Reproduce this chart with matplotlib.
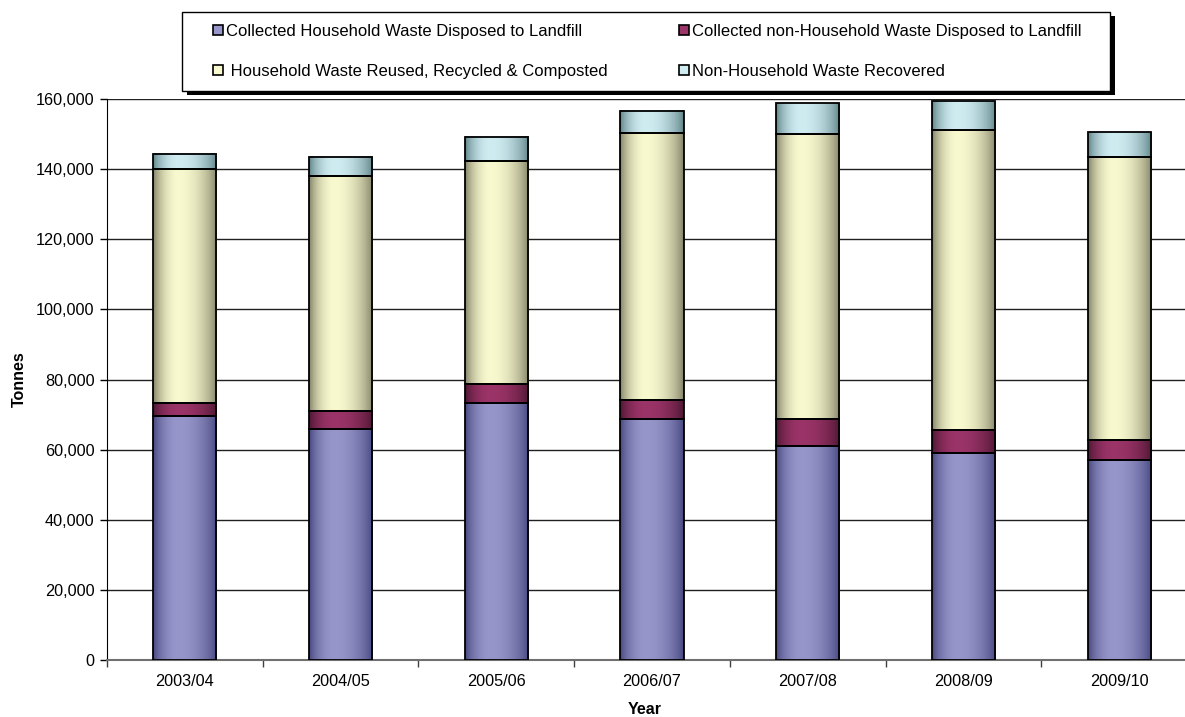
import matplotlib

matplotlib.use("Agg")

import matplotlib.pyplot as plt
import numpy as np
from matplotlib.patches import Patch, Rectangle
from matplotlib.ticker import FuncFormatter, MultipleLocator

plt.rcParams["font.family"] = ["Liberation Sans", "DejaVu Sans"]

years = ["2003/04", "2004/05", "2005/06", "2006/07", "2007/08", "2008/09", "2009/10"]

# Tonnes par flux
household_landfill = [69600, 66000, 73400, 68700, 61000, 59100, 57000]
non_household_landfill = [3700, 5100, 5300, 5500, 7700, 6500, 5700]
household_recycled = [66700, 66800, 63500, 76000, 81400, 85600, 80900]
non_household_recovered = [4400, 5700, 7100, 6500, 8700, 8200, 7100]

series_labels = [
    "Collected Household Waste Disposed to Landfill",
    "Collected non-Household Waste Disposed to Landfill",
    " Household Waste Reused, Recycled & Composted",
    "Non-Household Waste Recovered",
]

# (couleur claire au centre, couleur sombre sur les bords)
SERIES_COLORS = [
    ("#9696CA", "#45457E"),
    ("#9B3468", "#4A1630"),
    ("#F9F9CF", "#7E7E64"),
    ("#CFECF1", "#5C8085"),
]

W, H = 1185, 717


def gradient_strip(light, dark, n=64):
    """Dégradé horizontal façon Excel : sombre aux bords, clair vers 40 %."""
    light = np.array(matplotlib.colors.to_rgb(light))
    dark = np.array(matplotlib.colors.to_rgb(dark))
    u = np.linspace(0, 1, n)
    peak = 0.4
    d = np.where(u < peak, (peak - u) / peak, (u - peak) / (1 - peak))
    f = np.cos(np.pi / 2 * d) ** 0.7
    rgb = dark[None, :] + f[:, None] * (light - dark)[None, :]
    return rgb[None, :, :]


fig = plt.figure(figsize=(W / 100, H / 100), dpi=100)
ax = fig.add_axes([107 / W, 57 / H, 1090 / W, 561 / H])

x = np.arange(len(years))
bar_width = 0.405
bottom = np.zeros(len(years))
stack = [household_landfill, non_household_landfill, household_recycled,
         non_household_recovered]

for values, (light, dark) in zip(stack, SERIES_COLORS):
    bars = ax.bar(x, values, bar_width, bottom=bottom, facecolor="none",
                  edgecolor="black", linewidth=1.3, zorder=4)
    strip = gradient_strip(light, dark)
    for patch in bars:
        x0, y0 = patch.get_x(), patch.get_y()
        ax.imshow(strip, extent=[x0, x0 + patch.get_width(), y0, y0 + patch.get_height()],
                  aspect="auto", interpolation="bilinear", zorder=3)
    bottom += np.array(values)

ax.set_xlim(-0.5, len(years) - 0.5)
ax.set_ylim(0, 160000)
ax.yaxis.set_major_locator(MultipleLocator(20000))
ax.yaxis.set_major_formatter(FuncFormatter(lambda v, _: f"{int(v):,}"))
ax.set_xticks(x)
ax.set_xticklabels(years)
ax.set_xticks(np.arange(-0.5, len(years) + 0.5, 1), minor=True)
ax.tick_params(axis="x", which="major", length=0, pad=10, labelsize=11.7)
ax.tick_params(axis="x", which="minor", length=5, width=1, color="#404040")
ax.tick_params(axis="y", length=5, width=1, pad=4, labelsize=11.7)

ax.yaxis.grid(True, color="#202020", linewidth=1)
ax.set_axisbelow(True)
for side in ("top", "right"):
    ax.spines[side].set_visible(False)
ax.spines["left"].set_color("black")
ax.spines["bottom"].set_color("#707070")
ax.spines["bottom"].set_linewidth(1.5)

ax.set_ylabel("Tonnes", fontsize=11.5, fontweight="bold")
ax.yaxis.set_label_coords(-80 / 1090, 0.5)
ax.set_xlabel("Year", fontsize=11.5, fontweight="bold")
ax.xaxis.set_label_coords(538 / 1090, -42 / 561)

# Cadre de légende dessiné à part (marges horizontales plus larges que
# verticales, ce que borderpad ne sait pas faire), avec son ombre portée.
box_left, box_top, box_right, box_bottom = 182, 12, 1110, 91
fig.patches.append(Rectangle(
    ((box_left + 5) / W, 1 - (box_bottom + 4) / H),
    (box_right - box_left) / W, (box_bottom - box_top) / H,
    transform=fig.transFigure, facecolor="black", edgecolor="none", zorder=5))
fig.patches.append(Rectangle(
    (box_left / W, 1 - box_bottom / H),
    (box_right - box_left) / W, (box_bottom - box_top) / H,
    transform=fig.transFigure, facecolor="white", edgecolor="black",
    linewidth=1.0, zorder=6))

# matplotlib remplit la légende colonne par colonne : on réordonne
# pour obtenir la lecture ligne par ligne de l'original.
order = [0, 2, 1, 3]
handles = [Patch(facecolor=SERIES_COLORS[i][0], edgecolor="black", linewidth=1.2)
           for i in order]
legend = fig.legend(
    handles, [series_labels[i] for i in order], ncol=2, loc="center", mode="expand",
    bbox_to_anchor=(213 / W, 1 - box_bottom / H, 869 / W, (box_bottom - box_top) / H),
    bbox_transform=fig.transFigure, fontsize=12, frameon=False,
    handlelength=0.6, handleheight=0.6, handletextpad=0.2,
    labelspacing=1.5, borderpad=0, borderaxespad=0,
)
legend.set_zorder(7)

fig.savefig("out.png", dpi=100)
